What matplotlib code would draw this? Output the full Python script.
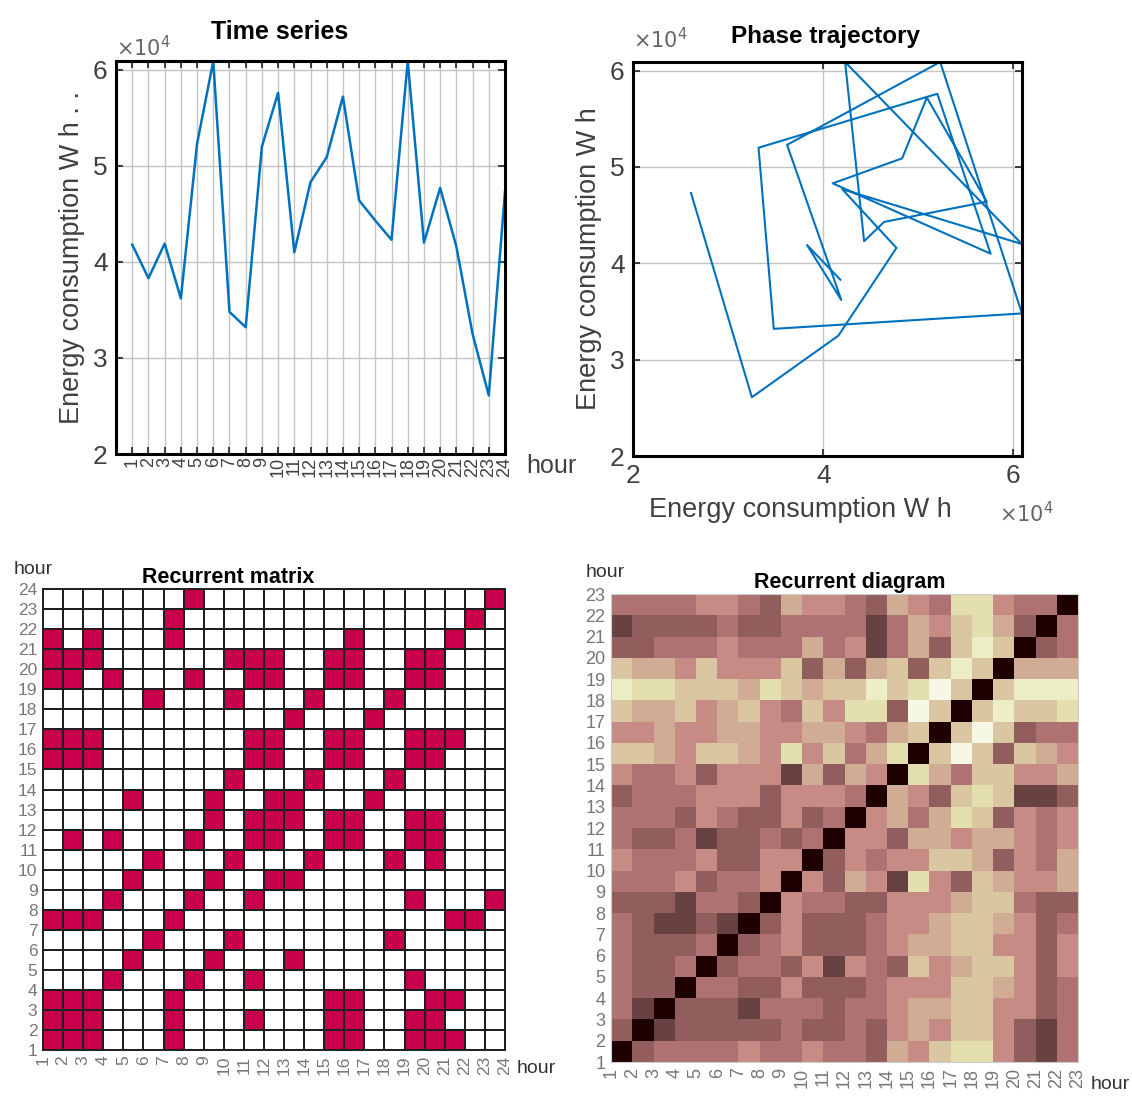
import numpy as np
import matplotlib
matplotlib.use("Agg")
import matplotlib.pyplot as plt
from matplotlib.colors import ListedColormap

plt.rcParams['font.family'] = ['Liberation Sans', 'DejaVu Sans']

# hourly energy consumption, W h
hours = list(range(1, 25))
energy_wh = [41800, 38300, 41900, 36200, 52300, 60900, 34800, 33200,
             52000, 57600, 41000, 48300, 50900, 57200, 46400, 44300,
             42300, 60900, 42000, 47700, 41600, 32500, 26100, 47300]

# recurrent matrix: red cells per row (row 1 at the bottom), columns 1..23
red_cells = {
    1: [1, 2, 3, 7, 15, 16, 19, 20, 21],
    2: [1, 2, 3, 7, 11, 15, 16, 19, 20],
    3: [1, 2, 3, 7, 15, 16, 20, 21],
    4: [4, 8, 11, 19],
    5: [5, 9, 13],
    6: [6, 10, 18],
    7: [1, 2, 3, 7, 21, 22],
    8: [4, 8, 11, 19, 23],
    9: [5, 9, 12, 13],
    10: [6, 10, 14, 18, 20],
    11: [2, 4, 8, 11, 12, 15, 16, 19, 20],
    12: [9, 11, 12, 13, 15, 16, 19, 20],
    13: [5, 9, 12, 13, 17],
    14: [10, 14, 18],
    15: [1, 2, 3, 11, 12, 15, 16, 19, 20],
    16: [1, 2, 3, 11, 12, 15, 16, 19, 20, 21],
    17: [13, 17],
    18: [6, 10, 14, 18],
    19: [1, 2, 4, 8, 11, 12, 15, 16, 19, 20],
    20: [1, 2, 3, 10, 11, 12, 15, 16, 19, 20],
    21: [1, 3, 7, 16, 21],
    22: [7, 22],
    23: [8, 23],
}

# recurrent diagram levels 0..9 (top row = 22, bottom row = 1)
diagram_rows = [
    "3333443254432543774330",
    "1222232233331354675203",
    "2233343335341352686023",
    "6554644462525626860555",
    "8776665765668679606888",
    "6556456436477296068667",
    "4454455445543560696233",
    "6654665474635706962654",
    "4334244415254075366445",
    "2333444244430542676112",
    "3332432242304535762434",
    "3223122323044255455434",
    "4333422440243446652435",
    "3334233404254174265445",
    "2221332043322444566322",
    "3211210242223445665423",
    "3222302342223455664424",
    "3223023324143264566424",
    "3220332242223444665423",
    "3102221333233455664423",
    "2012222232232454664213",
    "0233334334332546774213",
]

line_color = '#0072BD'
grey = '#404040'

fig = plt.figure(figsize=(11.32, 10.97), dpi=100)
e = np.array(energy_wh) / 1e4
top = e.max()

# --- time series ---
ax1 = fig.add_axes([0.1025, 0.5861, 0.3436, 0.3582])
ax1.plot(hours, e, color=line_color, lw=1.8)
ax1.set_xlim(0, 24)
ax1.set_ylim(2, top)
ax1.set_xticks(hours)
ax1.set_xticklabels([str(h) for h in hours], rotation=90, fontsize=13)
ax1.set_yticks([2, 3, 4, 5, 6])
ax1.tick_params(axis='y', labelsize=19, colors=grey, pad=6)
ax1.tick_params(axis='x', colors=grey, pad=2)
ax1.tick_params(direction='in', top=True, right=True, length=5, width=1.2, color='#222')
ax1.grid(True, color='#c4c4c4', lw=1)
ax1.set_ylabel('Energy consumption W h . .', fontsize=19.5, color=grey, labelpad=6)
for s in ax1.spines.values():
    s.set_linewidth(2.2)
ax1.text(0.42, 1.075, 'Time series', transform=ax1.transAxes, ha='center',
         va='center', fontsize=18, fontweight='bold')
ax1.text(0.0, 1.035, r'$\times10^4$', transform=ax1.transAxes, ha='left',
         va='center', fontsize=15, color='#666')
ax1.text(1.055, -0.03, 'hour', transform=ax1.transAxes, ha='left',
         va='center', fontsize=18, color=grey)

# --- phase trajectory ---
ax2 = fig.add_axes([0.5592, 0.5843, 0.3436, 0.3592])
ax2.plot(e[:-1], e[1:], color=line_color, lw=1.5)
ax2.set_xlim(2, top)
ax2.set_ylim(2, top)
ax2.set_xticks([2, 4, 6])
ax2.set_yticks([2, 3, 4, 5, 6])
ax2.tick_params(labelsize=19, colors=grey, pad=6)
ax2.tick_params(direction='in', top=True, right=True, length=5, width=1.2, color='#222')
ax2.grid(True, color='#c4c4c4', lw=1)
ax2.set_ylabel('Energy consumption W h', fontsize=19.5, color=grey, labelpad=6)
ax2.text(0.43, -0.137, 'Energy consumption W h', transform=ax2.transAxes,
         ha='center', va='center', fontsize=19.5, color=grey)
for s in ax2.spines.values():
    s.set_linewidth(2.2)
ax2.text(0.494, 1.065, 'Phase trajectory', transform=ax2.transAxes, ha='center',
         va='center', fontsize=17.5, fontweight='bold')
ax2.text(0.0, 1.058, r'$\times10^4$', transform=ax2.transAxes, ha='left',
         va='center', fontsize=15, color='#666')
ax2.text(0.94, -0.145, r'$\times10^4$', transform=ax2.transAxes, ha='left',
         va='center', fontsize=15, color='#666')

# --- recurrent matrix (24 grid lines, 23 x 23 cells) ---
n = 23
rec = np.zeros((n, n))
for r, cols in red_cells.items():
    for c in cols:
        rec[r - 1, c - 1] = 1
grid24 = np.arange(1, 25)
ax3 = fig.add_axes([0.038, 0.0428, 0.4081, 0.4202])
ax3.pcolormesh(grid24, grid24, rec, cmap=ListedColormap(['white', '#c8004b']),
               vmin=0, vmax=1, edgecolors='#1e1e1e', linewidth=1.4)
ax3.set_xlim(1, 24)
ax3.set_ylim(1, 24)
ax3.set_xticks(grid24)
ax3.set_yticks(grid24)
ax3.set_xticklabels([str(v) for v in grid24], rotation=90)
ax3.tick_params(length=0, labelsize=12.5, colors='#777', pad=4)
for s in ax3.spines.values():
    s.set_linewidth(1.4)
    s.set_color('#1e1e1e')
ax3.text(0.40, 1.026, 'Recurrent matrix', transform=ax3.transAxes, ha='center',
         va='center', fontsize=15.5, fontweight='bold')
ax3.text(-0.022, 1.042, 'hour', transform=ax3.transAxes, ha='center',
         va='center', fontsize=14, color='#333')
ax3.text(1.025, -0.039, 'hour', transform=ax3.transAxes, ha='left',
         va='center', fontsize=14, color='#333')

# --- recurrent diagram (23 grid lines, 22 x 22 cells) ---
dist = np.array([[int(ch) for ch in row] for row in diagram_rows[::-1]]) / 10.0
grid23 = np.arange(1, 24)
ax4 = fig.add_axes([0.5398, 0.0319, 0.4125, 0.4266])
ax4.pcolormesh(grid23, grid23, dist, cmap='pink', vmin=0, vmax=1)
ax4.set_xlim(1, 23)
ax4.set_ylim(1, 23)
ax4.set_xticks(grid23)
ax4.set_yticks(grid23)
ax4.set_xticklabels([str(v) for v in grid23], rotation=90)
ax4.tick_params(length=0, labelsize=13, colors='#777', pad=4)
for s in ax4.spines.values():
    s.set_linewidth(0.8)
    s.set_color('#cccccc')
ax4.text(0.512, 1.024, 'Recurrent diagram', transform=ax4.transAxes, ha='center',
         va='center', fontsize=15.5, fontweight='bold')
ax4.text(-0.013, 1.047, 'hour', transform=ax4.transAxes, ha='center',
         va='center', fontsize=14, color='#333')
ax4.text(1.026, -0.049, 'hour', transform=ax4.transAxes, ha='left',
         va='center', fontsize=14, color='#333')

fig.savefig('out.png', dpi=100)
